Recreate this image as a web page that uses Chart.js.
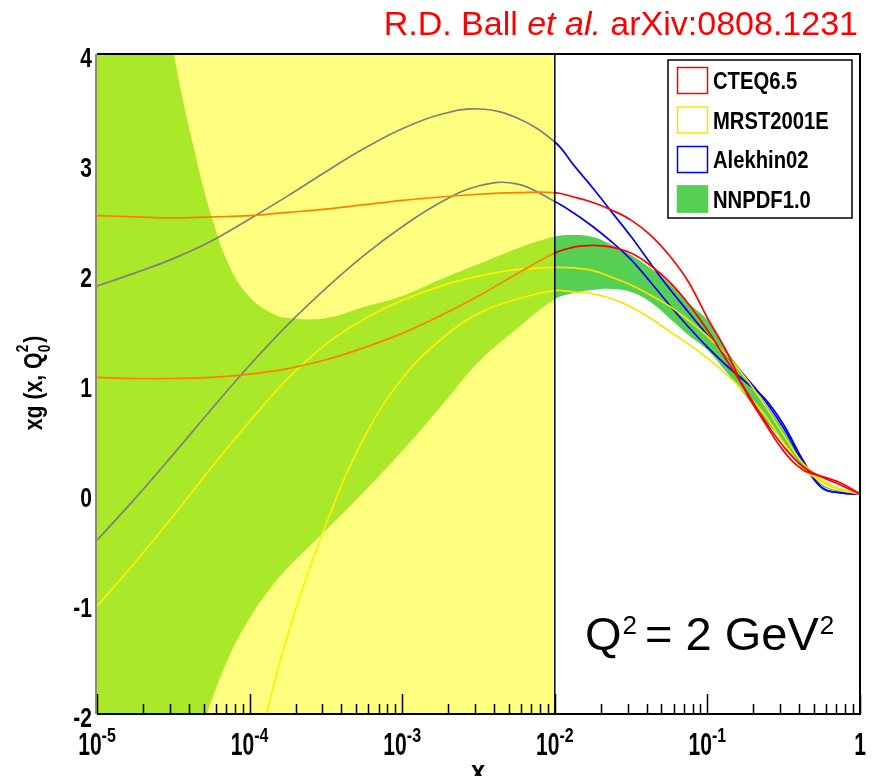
<!DOCTYPE html>
<html>
<head>
<meta charset="utf-8">
<title>Gluon xg(x, Q0²) at Q² = 2 GeV²</title>
<script src="https://cdn.jsdelivr.net/npm/chart.js@4.4.1/dist/chart.umd.min.js"></script>
<style>
  html, body { margin: 0; padding: 0; background: #fff; }
</style>
</head>
<body>
<canvas id="chart" width="875" height="776"></canvas>
<script>
// x grid shared by the model curves (log spaced, finer above 1e-2)
const xGrid = [1e-5, 1.78e-5, 3.16e-5, 5.62e-5, 1e-4, 1.78e-4, 3.16e-4, 5.62e-4, 1e-3, 1.78e-3, 3.16e-3, 5.62e-3,
  0.01, 0.0133, 0.0178, 0.0237, 0.0316, 0.0422, 0.0562, 0.075, 0.1, 0.133, 0.178, 0.237, 0.316, 0.422, 0.562, 0.75, 1]

// CTEQ6.5 error band edges
const cteqHi = [2.53, 2.52, 2.51, 2.52, 2.53, 2.56, 2.59, 2.63, 2.67, 2.70, 2.725, 2.74,
  2.74, 2.70, 2.65, 2.58, 2.49, 2.355, 2.17, 1.93, 1.60, 1.30, 0.93, 0.65, 0.39, 0.22, 0.16, 0.10, 0.0]
const cteqLo = [1.06, 1.05, 1.05, 1.06, 1.09, 1.14, 1.22, 1.33, 1.46, 1.62, 1.8, 2.0,
  2.19, 2.245, 2.26, 2.245, 2.19, 2.08, 1.93, 1.73, 1.49, 1.22, 0.945, 0.67, 0.43, 0.25, 0.155, 0.08, 0.0]

// MRST2001E error band edges
const mrstHi = [-1.02, -0.62, -0.2, 0.24, 0.66, 1.05, 1.36, 1.59, 1.76, 1.89, 1.98, 2.04,
  2.06, 2.055, 2.03, 1.97, 1.9, 1.81, 1.71, 1.58, 1.435, 1.265, 1.055, 0.81, 0.535, 0.28, 0.125, 0.045, 0.0]
const mrstLo = [null, null, null, null, -2.6, -1.28, -0.28, 0.51, 1.05, 1.4, 1.64, 1.77,
  1.85, 1.836, 1.82, 1.775, 1.7, 1.6, 1.48, 1.365, 1.235, 1.09, 0.92, 0.72, 0.465, 0.235, 0.11, 0.035, 0.0]

// Alekhin02 error band edges
const alekHi = [1.89, 2.01, 2.14, 2.3, 2.5, 2.71, 2.93, 3.14, 3.32, 3.45, 3.5, 3.42,
  3.2, 2.99, 2.78, 2.56, 2.34, 2.10, 1.87, 1.655, 1.445, 1.26, 1.065, 0.855, 0.6, 0.29, 0.055, 0.01, 0.0]
const alekLo = [-0.42, -0.04, 0.36, 0.77, 1.17, 1.54, 1.87, 2.17, 2.43, 2.65, 2.8, 2.82,
  2.66, 2.555, 2.43, 2.29, 2.13, 1.93, 1.72, 1.52, 1.335, 1.17, 1.02, 0.87, 0.63, 0.31, 0.06, 0.01, 0.0]

// NNPDF1.0 band, on its own grid (extra points where the upper edge turns fast)
const bandX = [1e-5, 1.78e-5, 2.37e-5, 3.16e-5, 4.22e-5, 5.62e-5, 7.5e-5, 1e-4, 1.33e-4, 1.78e-4, 3.16e-4, 5.62e-4,
  1e-3, 1.78e-3, 3.16e-3, 5.62e-3,
  0.01, 0.0133, 0.0178, 0.0237, 0.0316, 0.0422, 0.0562, 0.075, 0.1, 0.133, 0.178, 0.237, 0.316, 0.422, 0.562, 0.75, 1]
const bandHi = [9, 6.3, 5.1, 4.03, 3.2, 2.53, 2.05, 1.79, 1.66, 1.6, 1.6, 1.7, 1.8, 1.95, 2.09, 2.23,
  2.34, 2.355, 2.336, 2.264, 2.173, 2.055, 1.918, 1.736, 1.582, 1.309, 1.073, 0.836, 0.582, 0.291, 0.091, 0.027, 0]
const bandLo = [-4.2, -3.5, -3.1, -2.8, -2.4, -1.88, -1.45, -1.13, -0.88, -0.67, -0.33, 0.02, 0.39, 0.79, 1.2, 1.5,
  1.77, 1.827, 1.855, 1.864, 1.836, 1.745, 1.6, 1.445, 1.309, 1.109, 0.891, 0.673, 0.473, 0.245, 0.073, 0.018, 0]

// shaded small-x region (no data constraints)
const shadedRange = [1e-5, 1e-2]

// axes
const xRange = [1e-5, 1]
const yRange = [-2, 4]
const xTicks = [1e-5, 1e-4, 1e-3, 1e-2, 1e-1, 1]
const xTickBase = ['10', '10', '10', '10', '10', '1']
const xTickExp = ['-5', '-4', '-3', '-2', '-1', '']
const yTicks = [-2, -1, 0, 1, 2, 3, 4]
const yTickLabels = ['-2', '-1', '0', '1', '2', '3', '4']

const legendNames = ['CTEQ6.5', 'MRST2001E', 'Alekhin02', 'NNPDF1.0']

const RED = '#ff0000'
const YELLOW = '#ffe100'
const BLUE = '#0000f0'
const GREEN = 'rgb(85,208,85)'
const FONT = '"Liberation Sans", Arial, Helvetica, sans-serif'

const pts = (xs, ys) => xs.map((x, i) => ({ x, y: ys[i] }))

const curve = (label, ys, color) => ({
    label,
    data: pts(xGrid, ys),
    borderColor: color,
    borderWidth: 1.7,
    fill: false,
    tension: 0.4,
    order: 1
})

// draws text squeezed horizontally (the original uses a narrow bold face)
const drawText = (ctx, str, x, y, font, sx = 1, align = 'left', color = '#000') => {
    ctx.save()
    ctx.font = font
    ctx.fillStyle = color
    ctx.textBaseline = 'alphabetic'
    ctx.textAlign = 'left'
    const w = ctx.measureText(str).width * sx
    const x0 = align === 'center' ? x - w / 2 : align === 'right' ? x - w : x
    ctx.translate(x0, y)
    ctx.scale(sx, 1)
    ctx.fillText(str, 0, 0)
    ctx.restore()
    return w
}

const textWidth = (ctx, str, font, sx = 1) => {
    ctx.save()
    ctx.font = font
    const w = ctx.measureText(str).width * sx
    ctx.restore()
    return w
}

const decor = {
    id: 'decor',
    afterDatasetsDraw(chart) {
        const { ctx, chartArea: a, scales: { x, y } } = chart
        ctx.save()

        // x axis ticks, pointing into the plot
        ctx.strokeStyle = '#000'
        ctx.lineWidth = 1.5
        ctx.beginPath()
        xTicks.forEach((d, i) => {
            const px = Math.round(x.getPixelForValue(d)) + 0.5
            ctx.moveTo(px, a.bottom)
            ctx.lineTo(px, a.bottom - 20)
            if (i < xTicks.length - 1) {
                for (let m = 2; m <= 9; m++) {
                    const mx = Math.round(x.getPixelForValue(m * d)) + 0.5
                    ctx.moveTo(mx, a.bottom)
                    ctx.lineTo(mx, a.bottom - 10)
                }
            }
        })
        ctx.stroke()

        // frame
        ctx.lineWidth = 2
        ctx.beginPath()
        ctx.moveTo(a.left, a.top)
        ctx.lineTo(a.right, a.top)
        ctx.lineTo(a.right, a.bottom)
        ctx.lineTo(a.left, a.bottom)
        ctx.stroke()
        ctx.strokeStyle = '#6a6a30'
        ctx.lineWidth = 1.5
        ctx.beginPath()
        ctx.moveTo(a.left - 1, a.top)
        ctx.lineTo(a.left - 1, a.bottom)
        ctx.stroke()

        // x tick labels: 10 with exponent
        const baseFont = `bold 31px ${FONT}`
        const expFont = `bold 20px ${FONT}`
        xTicks.forEach((d, i) => {
            const px = x.getPixelForValue(d)
            const wb = textWidth(ctx, xTickBase[i], baseFont, 0.68)
            const we = textWidth(ctx, xTickExp[i], expFont, 0.8)
            const x0 = px - (wb + we) / 2
            drawText(ctx, xTickBase[i], x0, 755, baseFont, 0.68)
            if (xTickExp[i]) drawText(ctx, xTickExp[i], x0 + wb, 742, expFont, 0.8)
        })

        // y tick labels
        yTicks.forEach((v, i) => {
            const py = y.getPixelForValue(v)
            drawText(ctx, yTickLabels[i], 92, py + 13, `bold 28px ${FONT}`, 0.75, 'right')
        })

        // x axis title
        drawText(ctx, 'x', 478, 781, `bold 30px ${FONT}`, 0.85, 'center')

        // y axis title, rotated
        ctx.save()
        ctx.translate(42, 383)
        ctx.rotate(-Math.PI / 2)
        const tf = `bold 25px ${FONT}`
        const sf = `bold 16px ${FONT}`
        const w1 = textWidth(ctx, 'xg (x, Q', tf, 0.85)
        const w2 = textWidth(ctx, '2', sf, 0.85)
        const w3 = textWidth(ctx, ')', tf, 0.85)
        let cx = -(w1 + w2 + 2 + w3) / 2
        drawText(ctx, 'xg (x, Q', cx, 0, tf, 0.85)
        cx += w1
        drawText(ctx, '2', cx, -14, sf, 0.85)
        drawText(ctx, '0', cx, 8, sf, 0.85)
        cx += w2 + 2
        drawText(ctx, ')', cx, 0, tf, 0.85)
        ctx.restore()

        // legend box
        ctx.fillStyle = '#fff'
        ctx.fillRect(668, 60, 184, 158)
        ctx.strokeStyle = '#000'
        ctx.lineWidth = 1.5
        ctx.strokeRect(668, 60, 184, 158)
        const swatch = [
            { stroke: RED, fill: '#fff' },
            { stroke: YELLOW, fill: '#fff' },
            { stroke: BLUE, fill: '#fff' },
            { stroke: GREEN, fill: GREEN }
        ]
        legendNames.forEach((name, i) => {
            const cy = 80.5 + i * 39.5
            ctx.fillStyle = swatch[i].fill
            ctx.fillRect(677, cy - 13.5, 31, 27)
            ctx.strokeStyle = swatch[i].stroke
            ctx.lineWidth = 1.5
            ctx.strokeRect(677.5, cy - 13, 30, 26)
            drawText(ctx, name, 713, cy + 8.5, `bold 23px ${FONT}`, 0.88)
        })

        // Q^2 label
        const qf = `47px ${FONT}`
        const qs = `26px ${FONT}`
        let qx = 585
        qx += drawText(ctx, 'Q', qx, 650, qf)
        qx += drawText(ctx, '2', qx + 1, 634, qs) + 9
        qx += drawText(ctx, '= 2 GeV', qx, 650, qf)
        drawText(ctx, '2', qx + 1, 634, qs)

        // reference line at top
        const rf = `34px ${FONT}`
        const ri = `italic 34px ${FONT}`
        const parts = [['R.D. Ball ', rf], ['et al.', ri], [' arXiv:0808.1231', rf]]
        const total = parts.reduce((s, p) => s + textWidth(ctx, p[0], p[1]), 0)
        let rx = 858 - total
        parts.forEach(p => { rx += drawText(ctx, p[0], rx, 35, p[1], 1, 'left', '#ff0000') })

        ctx.restore()
    }
}

const chart = new Chart(document.getElementById('chart'), {
    type: 'line',
    data: {
        datasets: [
            {
                label: 'no data',
                data: [{ x: shadedRange[0], y: yRange[1] }, { x: shadedRange[1], y: yRange[1] }, { x: shadedRange[1], y: yRange[0] }],
                borderColor: '#000',
                borderWidth: 1.5,
                backgroundColor: 'rgba(255,255,0,0.5)',
                fill: 'start',
                tension: 0,
                order: 0
            },
            curve('CTEQ6.5', cteqHi, RED),
            curve('CTEQ6.5', cteqLo, RED),
            curve('MRST2001E', mrstHi, YELLOW),
            curve('MRST2001E', mrstLo, YELLOW),
            curve('Alekhin02', alekHi, BLUE),
            curve('Alekhin02', alekLo, BLUE),
            {
                label: 'NNPDF1.0',
                data: pts(bandX, bandHi),
                borderWidth: 0,
                borderColor: GREEN,
                backgroundColor: GREEN,
                fill: '+1',
                tension: 0.4,
                order: 2
            },
            {
                label: 'NNPDF1.0',
                data: pts(bandX, bandLo),
                borderWidth: 0,
                borderColor: GREEN,
                fill: false,
                tension: 0.4,
                order: 2
            }
        ]
    },
    options: {
        responsive: false,
        animation: false,
        events: [],
        layout: { padding: { left: 97, right: 15, top: 54, bottom: 62 } },
        elements: {
            point: { radius: 0 }
        },
        scales: {
            x: { type: 'logarithmic', min: xRange[0], max: xRange[1], display: false },
            y: { type: 'linear', min: yRange[0], max: yRange[1], display: false }
        },
        plugins: {
            legend: { display: false },
            tooltip: { enabled: false }
        }
    },
    plugins: [decor]
})
</script>
</body>
</html>
